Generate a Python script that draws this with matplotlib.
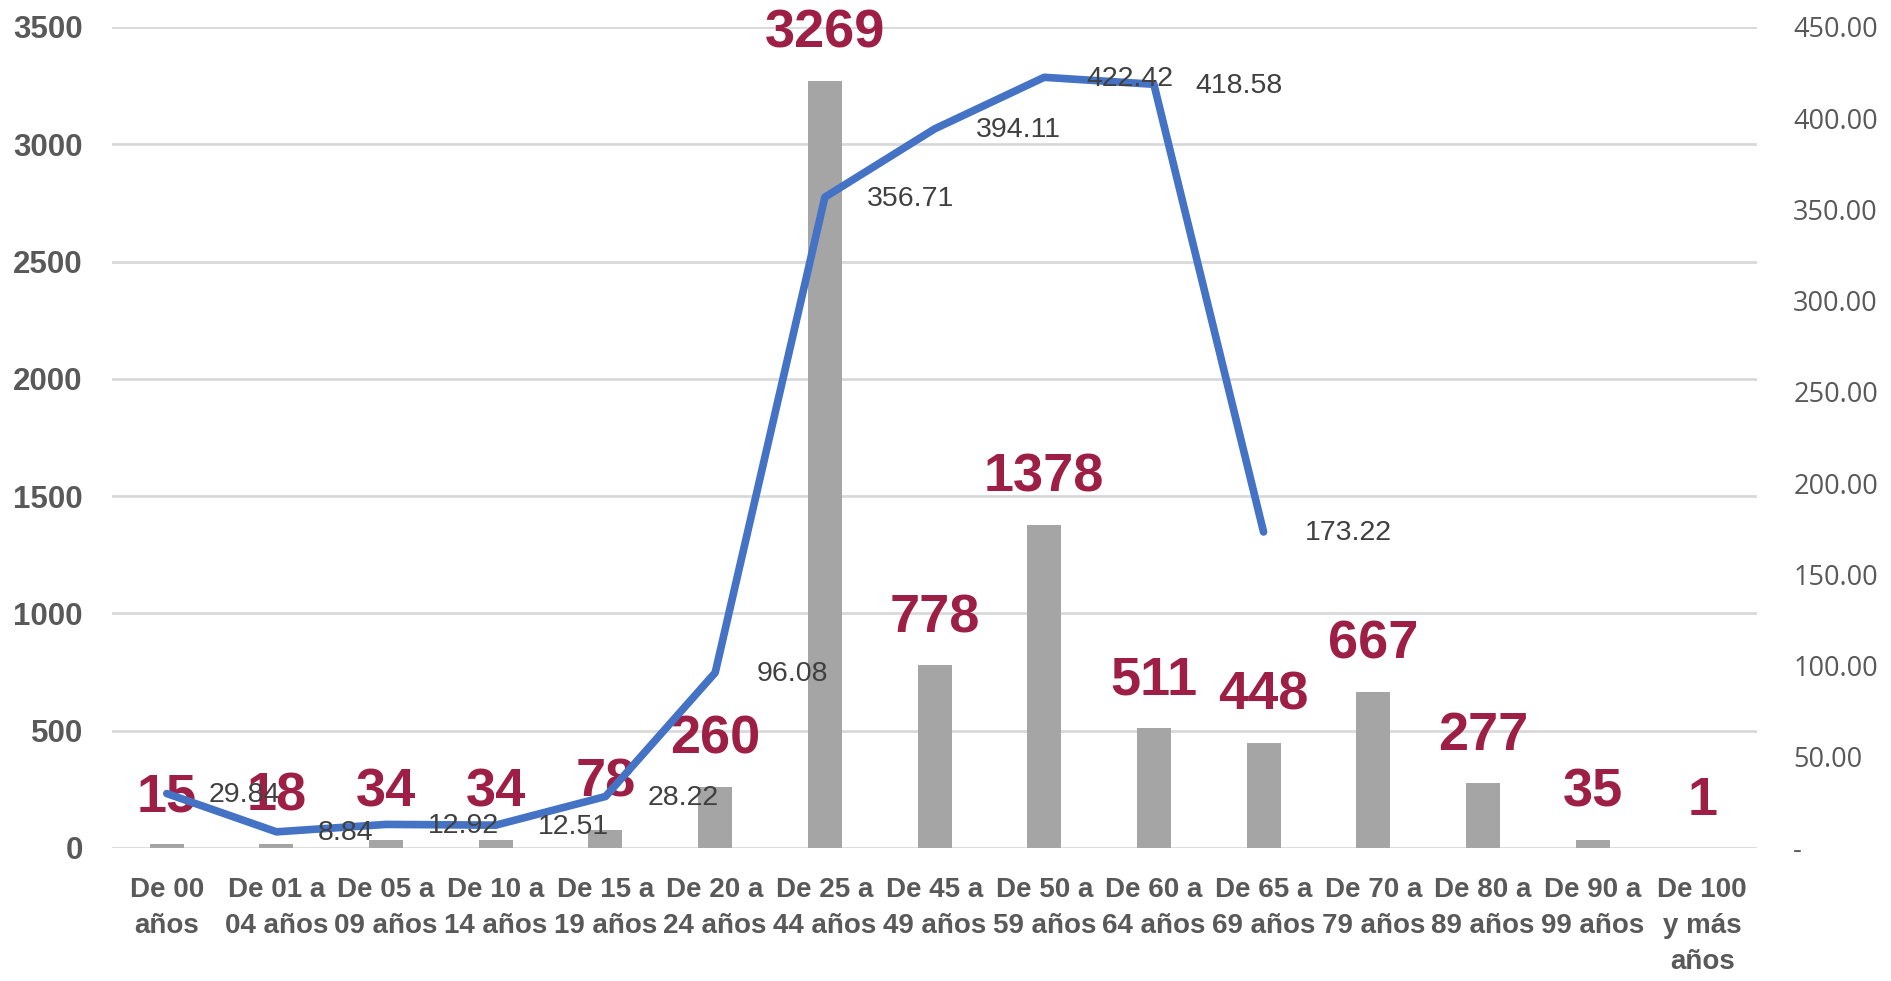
import matplotlib
matplotlib.use("Agg")
from matplotlib import pyplot as plt
from matplotlib.ticker import FuncFormatter, MultipleLocator

# datos
categorias = ['De 00\naños', 'De 01 a\n04 años', 'De 05 a\n09 años', 'De 10 a\n14 años',
              'De 15 a\n19 años', 'De 20 a\n24 años', 'De 25 a\n44 años', 'De 45 a\n49 años',
              'De 50 a\n59 años', 'De 60 a\n64 años', 'De 65 a\n69 años', 'De 70 a\n79 años',
              'De 80 a\n89 años', 'De 90 a\n99 años', 'De 100\ny más\naños']
casos = [15, 18, 34, 34, 78, 260, 3269, 778, 1378, 511, 448, 667, 277, 35, 1]
tasa = [29.84, 8.84, 12.92, 12.51, 28.22, 96.08, 356.71, 394.11, 422.42, 418.58, 173.22]

gris_texto = '#595959'
rojo = '#9E1F45'
azul = '#4472C4'

plt.rcParams['font.family'] = ['Liberation Sans', 'DejaVu Sans']

fig = plt.figure(figsize=(18.91, 9.81), dpi=100)
ax = fig.add_axes([0.0592, 0.1356, 0.8700, 0.8369])
ax2 = ax.twinx()

x = list(range(len(categorias)))
ax.bar(x, casos, width=0.31, color='#A5A5A5', zorder=2)
for xi, v in zip(x, casos):
    ax.annotate(str(v), (xi, v), xytext=(0, 34), textcoords='offset points',
                ha='center', va='center', fontsize=39, fontweight='bold', color=rojo, zorder=5)

ax.set_xlim(-0.5, len(categorias) - 0.5)
ax.set_ylim(0, 3500)
ax.yaxis.set_major_locator(MultipleLocator(500))
ax.grid(axis='y', color='#D9D9D9', linewidth=2, zorder=0)
ax.set_axisbelow(True)
ax.set_xticks(x)
ax.set_xticklabels(categorias, fontsize=20, fontweight='bold', color=gris_texto, linespacing=1.5)
ax.tick_params(axis='x', length=0, pad=21)
ax.tick_params(axis='y', length=0, pad=21, labelsize=22.5, labelcolor=gris_texto)
for lbl in ax.get_yticklabels():
    lbl.set_fontweight('bold')

# linea en el eje secundario
ax2.plot(x[:len(tasa)], tasa, color=azul, linewidth=5.5, solid_capstyle='round', zorder=3)
for xi, v in zip(x, tasa):
    ax2.annotate(f'{v:.2f}', (xi, v), xytext=(30, -1), textcoords='offset points',
                 ha='left', va='center', fontsize=20.5, color='#404040', zorder=4)
ax2.set_ylim(0, 450)
ax2.yaxis.set_major_locator(MultipleLocator(50))
ax2.yaxis.set_major_formatter(FuncFormatter(lambda v, p: '-' if v == 0 else f'{v:.2f}'))
ax2.tick_params(axis='y', length=0, pad=26, labelsize=19.5, labelcolor=gris_texto)
for lbl in ax2.get_yticklabels():
    lbl.set_family(['Open Sans', 'DejaVu Sans'])

for a in (ax, ax2):
    for s in a.spines.values():
        s.set_visible(False)

fig.savefig('out.png', dpi=100)
